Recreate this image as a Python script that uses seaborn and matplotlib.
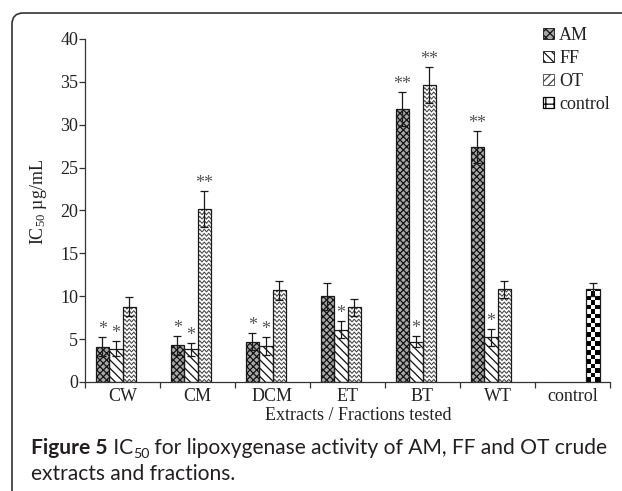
import numpy as np
import pandas as pd
import matplotlib
matplotlib.use("Agg")
import matplotlib.pyplot as plt
import seaborn as sns
from matplotlib.patches import Rectangle, Patch, FancyBboxPatch

# ---------------- data ----------------
categories = ["CW", "CM", "DCM", "ET", "BT", "WT", "control"]
series = ["AM", "FF", "OT", "control"]
am_vals = [4.1, 4.3, 4.7, 10.0, 31.8, 27.4]
am_err = [1.1, 1.1, 1.0, 1.6, 2.0, 1.9]
ff_vals = [3.9, 3.8, 4.2, 6.1, 4.7, 5.2]
ff_err = [0.9, 0.75, 1.05, 1.0, 0.65, 1.0]
ot_vals = [8.8, 20.2, 10.7, 8.7, 34.6, 10.8]
ot_err = [1.1, 2.1, 1.1, 1.0, 2.1, 1.0]
control_vals = [10.8]
control_err = [0.8]
am_stars = ["*", "*", "*", "", "**", "**"]
ff_stars = ["*", "*", "*", "*", "*", "*"]
ot_stars = ["", "**", "", "", "**", ""]
yticks = [0, 5, 10, 15, 20, 25, 30, 35, 40]

rows = []
for s, vals, errs, stars, cats in [
    ("AM", am_vals, am_err, am_stars, categories[:6]),
    ("FF", ff_vals, ff_err, ff_stars, categories[:6]),
    ("OT", ot_vals, ot_err, ot_stars, categories[:6]),
    ("control", control_vals, control_err, [""], ["control"]),
]:
    for c, v, e, st in zip(cats, vals, errs, stars):
        rows.append({"extract": c, "sample": s, "ic50": v, "err": e, "star": st})
df = pd.DataFrame(rows)

# ---------------- figure ----------------
sns.set_theme(style="ticks")
plt.rcParams["font.family"] = ["Liberation Serif", "DejaVu Serif"]
plt.rcParams["mathtext.default"] = "regular"
plt.rcParams["hatch.linewidth"] = 0.9

fig = plt.figure(figsize=(6.22, 4.91), dpi=100)
ax = fig.add_axes([85 / 622, 1 - 382 / 491, 525 / 622, 343 / 491])

sns.barplot(data=df, x="extract", y="ic50", hue="sample", order=categories,
            hue_order=series, width=0.72, dodge=True, errorbar=None,
            legend=False, ax=ax, saturation=1)

ax.set_ylim(0, 40)
ax.set_xlim(-0.5, len(categories) - 0.5)

nlev = len(series)
step = 0.72 / nlev
for p in list(ax.patches):
    w = p.get_width()
    h = p.get_height()
    if not np.isfinite(h) or h <= 0:
        continue
    x0 = p.get_x()
    cx = x0 + w / 2
    ci = int(round(cx))
    lev = int(round((cx - ci + 0.36) / step - 0.5))
    sname = series[lev]
    rec = df[(df["extract"] == categories[ci]) & (df["sample"] == sname)].iloc[0]
    if sname == "AM":
        p.set_facecolor("#a8a8a8")
        p.set_hatch("xxxxx")
        p.set_edgecolor("#151515")
        p.set_linewidth(0)
    elif sname == "FF":
        p.set_facecolor("white")
        p.set_hatch("\\\\\\\\")
        p.set_edgecolor("#111111")
        p.set_linewidth(0)
    elif sname == "OT":
        p.set_facecolor("white")
        p.set_edgecolor("white")
        p.set_linewidth(0)
        dy = 0.5
        amp = 0.32
        xs = np.linspace(x0, x0 + w, 7)
        yy = 0.0
        while yy < h + 1:
            ys = yy + amp * np.array([0, 1, 0, 1, 0, 1, 0])
            ln, = ax.plot(xs, ys, color="#444444", lw=0.75, zorder=2.5)
            ln.set_clip_path(p)
            yy += dy
    else:
        p.set_facecolor("white")
        p.set_linewidth(0)
        sq = 0.53
        nr = int(np.ceil(h / sq))
        xe = np.linspace(x0, x0 + w, 4)
        ye = np.arange(nr + 1) * sq
        board = (np.add.outer(np.arange(nr), np.arange(3)) % 2).astype(float)
        m = ax.pcolormesh(xe, ye, board, cmap="gray", vmin=0, vmax=1,
                          zorder=2.5, shading="flat")
        m.set_clip_path(p)
    ax.add_patch(Rectangle((x0, 0), w, h, fill=False, edgecolor="#1a1a1a",
                           lw=0.9, zorder=3))
    ax.errorbar(cx, h, yerr=rec["err"], color="#1a1a1a", lw=0.9,
                capsize=3.2, capthick=0.9, zorder=4)
    if rec["star"]:
        ax.text(cx, h + rec["err"] - 0.1, rec["star"], ha="center",
                va="bottom", fontsize=13, color="#555555", zorder=5)

ax.set_ylim(0, 40)
ax.set_xlim(-0.5, len(categories) - 0.5)

# axes styling
sns.despine(ax=ax)
for side in ["left", "bottom"]:
    ax.spines[side].set_color("#333333")
    ax.spines[side].set_linewidth(0.9)
ax.set_yticks(yticks)
ax.set_yticklabels([str(t) for t in yticks], fontsize=13, color="#222222")
ax.tick_params(axis="y", direction="out", length=4, width=0.9, color="#333333", pad=1)
ax.set_xticks(range(len(categories)))
ax.set_xticklabels(categories, fontsize=13, color="#222222")
ax.tick_params(axis="x", length=0, pad=4)
ax.set_xticks(np.arange(-0.5, len(categories) + 0.5, 1.0), minor=True)
ax.tick_params(axis="x", which="minor", direction="out", length=4, width=0.9, color="#333333")
ax.grid(False)

ax.set_ylabel("IC$_{50}$ µg/mL", fontsize=13, color="#222222")
ax.yaxis.set_label_coords(-0.068, 0.525)
ax.set_xlabel("Extracts / Fractions tested", fontsize=13, color="#222222", labelpad=0)
ax.xaxis.set_label_coords(0.52, -0.072)

# legend
handles = [
    Patch(facecolor="#a8a8a8", hatch="xxxx", edgecolor="#151515", lw=0.6),
    Patch(facecolor="white", hatch="\\\\\\\\", edgecolor="#111111", lw=0.6),
    Patch(facecolor="white", hatch="////", edgecolor="#444444", lw=0.6),
    Patch(facecolor="white", hatch="++", edgecolor="#000000", lw=0.9),
]
leg = ax.legend(handles, series, loc="upper left",
                bbox_to_anchor=(543 / 622, 1 - 27 / 491),
                bbox_transform=fig.transFigure, frameon=False, fontsize=13,
                handlelength=0.6, handleheight=0.6, handletextpad=0.3,
                labelspacing=0.33, borderpad=0, borderaxespad=0)
for t in leg.get_texts():
    t.set_color("#222222")

# border frame
frame = FancyBboxPatch((12 / 622, -0.2), 1.2, (491 - 13) / 491 + 0.2,
                       boxstyle="round,pad=0,rounding_size=0.018",
                       transform=fig.transFigure, fill=False,
                       edgecolor="#333333", lw=1.2, mutation_aspect=622 / 491)
fig.patches.append(frame)

# caption
capfont = ["Lato", "DejaVu Sans"]
col = "#231f20"
fig.canvas.draw()
r = fig.canvas.get_renderer()
parts = [("Figure 5", "bold", 1.0, 0), (" IC", "normal", 1.0, 0),
         ("50", "normal", 0.68, -4.0),
         (" for lipoxygenase activity of AM, FF and OT crude", "normal", 1.0, 0)]
base1 = 454.0
base2 = 480.0


def draw_caption(fs, draw=True):
    x = 31.0
    made = []
    for txt, wt, rel, dyy in parts:
        t = fig.text(x / 622, 1 - (base1 - dyy) / 491, txt, family=capfont,
                     fontweight=wt, fontsize=fs * rel, color=col,
                     ha="left", va="baseline")
        bb = t.get_window_extent(renderer=r)
        x += bb.width
        made.append(t)
    if not draw:
        for t in made:
            t.remove()
    return x - 31.0


base = draw_caption(13.0, draw=False)
fs = 13.0 * 577.0 / base
draw_caption(fs)
fig.text(31 / 622, 1 - base2 / 491, "extracts and fractions.", family=capfont,
         fontsize=fs, color=col, ha="left", va="baseline")

fig.savefig("out.png", dpi=100)
